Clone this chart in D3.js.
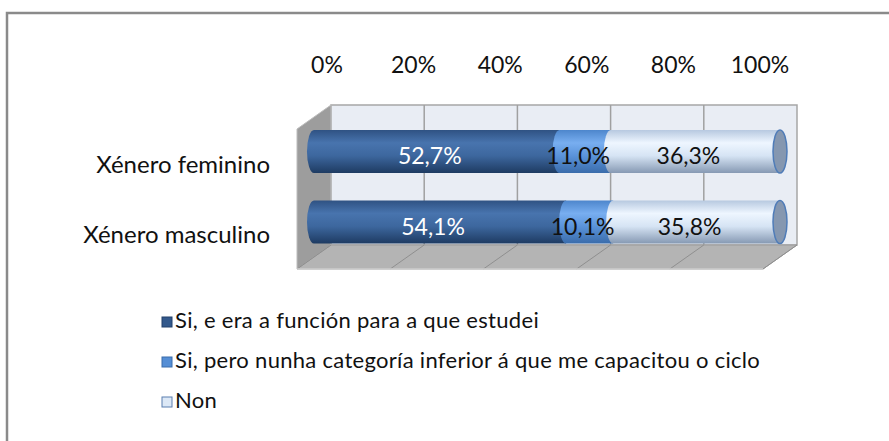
<!DOCTYPE html>
<html>
<head>
<meta charset="utf-8">
<script src="https://cdn.jsdelivr.net/npm/d3@7"></script>
<style>
  body { margin: 0; background: #fff; }
  text { font-family: Lato, "Open Sans", sans-serif; }
</style>
</head>
<body>
<svg id="chart" width="889" height="441"></svg>
<script>
// data
const categories = ['Xénero feminino', 'Xénero masculino'];
const seriesNames = [
  'Si, e era a función para a que estudei',
  'Si, pero nunha categoría inferior á que me capacitou o ciclo',
  'Non'
];
const seriesValues = [
  [52.7, 54.1],
  [11.0, 10.1],
  [36.3, 35.8]
];
const tickValues = [0, 20, 40, 60, 80, 100];

const svg = d3.select('#chart');
const defs = svg.append('defs');

// frame (continues past the picture's right and bottom edges)
svg.append('rect').attr('x', 7).attr('y', 13).attr('width', 900).attr('height', 450)
  .attr('fill', '#fff').attr('stroke', '#8a8a8a').attr('stroke-width', 2.5);

// 3d box geometry
const depthX = 34, depthY = 24;
const xBack = d3.scaleLinear().domain([0, 100]).range([331, 797]);
const xFront = d3.scaleLinear().domain([0, 100]).range([297, 763]);
const xMid = d3.scaleLinear().domain([0, 100]).range([314, 780]);
const xLab = d3.scaleLinear().domain([0, 100]).range([327, 760]);
const backTop = 105, backBottom = 245, frontTop = backTop + depthY, frontBottom = backBottom + depthY;

// back wall
svg.append('rect').attr('x', xBack(0)).attr('y', backTop)
  .attr('width', xBack(100) - xBack(0)).attr('height', backBottom - backTop)
  .attr('fill', '#e9edf4').attr('stroke', '#a6a6a6').attr('stroke-width', 1.5);
svg.selectAll('.grid').data(tickValues.slice(1, -1)).enter().append('line')
  .attr('x1', d => xBack(d)).attr('x2', d => xBack(d))
  .attr('y1', backTop).attr('y2', backBottom)
  .attr('stroke', '#a0a0a0').attr('stroke-width', 1.5);

// left side wall
svg.append('path')
  .attr('d', `M${xFront(0)},${frontTop}L${xBack(0)},${backTop}L${xBack(0)},${backBottom}L${xFront(0)},${frontBottom}Z`)
  .attr('fill', '#9d9d9d').attr('stroke', '#bdbdbd').attr('stroke-width', 1);

// floor
svg.append('path')
  .attr('d', `M${xFront(0)},${frontBottom}L${xBack(0)},${backBottom}L${xBack(100)},${backBottom}L${xFront(100)},${frontBottom}Z`)
  .attr('fill', '#b4b4b4').attr('stroke', '#9a9a9a').attr('stroke-width', 1);
svg.selectAll('.fgrid').data(tickValues).enter().append('line')
  .attr('x1', d => xBack(d)).attr('x2', d => xFront(d))
  .attr('y1', backBottom).attr('y2', frontBottom)
  .attr('stroke', '#8f8f8f').attr('stroke-width', 1);
svg.append('line').attr('x1', xFront(0)).attr('x2', xFront(100))
  .attr('y1', frontBottom).attr('y2', frontBottom)
  .attr('stroke', '#d0d0d0').attr('stroke-width', 1.5);

// gradients for the cylinders
const palettes = [
  ['#2f5283', '#4874ae', '#3d679e', '#1e3b62'],
  ['#4d86cc', '#78aef0', '#5a93da', '#3a6cab'],
  ['#b7c9e0', '#eef6ff', '#d6e4f4', '#8699b3']
];
palettes.forEach((p, i) => {
  const g = defs.append('linearGradient').attr('id', 'grad' + i)
    .attr('x1', 0).attr('x2', 0).attr('y1', 0).attr('y2', 1);
  [[0, p[0]], [0.3, p[1]], [0.6, p[2]], [1, p[3]]].forEach(([o, c]) =>
    g.append('stop').attr('offset', o).attr('stop-color', c));
});

const yc = d3.scalePoint().domain(categories).range([151.5, 222]);
const barH = 43, rx = 7;

// stack
const stacked = categories.map((c, ci) => {
  let acc = 0;
  return seriesValues.map((vals, si) => {
    const v = vals[ci];
    const d = { cat: c, si, v, x0: acc, x1: acc + v };
    acc += v;
    return d;
  });
});

stacked.forEach(row => {
  const cy = yc(row[0].cat);
  const g = svg.append('g');
  row.forEach(d => {
    const left = xMid(d.x0), right = xMid(d.x1);
    const top = cy - barH / 2;
    if (d.si === 0) {
      // rounded left end
      g.append('path')
        .attr('d', `M${right},${top}L${left},${top}A${rx},${barH / 2},0,0,0,${left},${top + barH}L${right},${top + barH}Z`)
        .attr('fill', `url(#grad${d.si})`);
    } else {
      g.append('path')
        .attr('d', `M${left},${top}A${rx},${barH / 2},0,0,0,${left},${top + barH}L${right},${top + barH}L${right},${top}Z`)
        .attr('fill', `url(#grad${d.si})`);
    }
  });
  // right cap
  const endX = xMid(100);
  g.append('ellipse').attr('cx', endX).attr('cy', cy).attr('rx', rx).attr('ry', barH / 2)
    .attr('fill', '#8597b0').attr('stroke', '#4f7cb8').attr('stroke-width', 1.5);
  // labels
  row.forEach(d => {
    g.append('text')
      .attr('x', xMid((d.x0 + d.x1) / 2) - 7).attr('y', cy + 7)
      .attr('text-anchor', 'middle').attr('dominant-baseline', 'middle')
      .attr('font-size', 23)
      .attr('fill', d.si === 0 ? '#fff' : '#111')
      .text(d3.format('.1f')(d.v).replace('.', ',') + '%');
  });
});

// top tick labels
svg.selectAll('.tick').data(tickValues).enter().append('text')
  .attr('x', d => xLab(d)).attr('y', 67)
  .attr('text-anchor', 'middle').attr('dominant-baseline', 'middle')
  .attr('font-size', 23).attr('fill', '#111')
  .text(d => d + '%');

// category labels
svg.selectAll('.cat').data(categories).enter().append('text')
  .attr('x', 270).attr('y', d => yc(d) + 15)
  .attr('text-anchor', 'end').attr('dominant-baseline', 'middle')
  .attr('font-size', 24).attr('fill', '#111')
  .text(d => d);

// legend
const legendFill = ['#33598c', '#558ed5', '#dce8f6'];
const legendStroke = ['#23406a', '#3a6cab', '#5b7fb0'];
const ly = d3.scalePoint().domain(seriesNames).range([322, 402]);
const leg = svg.selectAll('.leg').data(seriesNames).enter().append('g')
  .attr('transform', d => `translate(162,${ly(d)})`);
leg.append('rect').attr('x', 0).attr('y', -5).attr('width', 10).attr('height', 10)
  .attr('fill', (d, i) => legendFill[i]).attr('stroke', (d, i) => legendStroke[i]).attr('stroke-width', 1);
leg.append('text').attr('x', 13).attr('y', 0)
  .attr('dominant-baseline', 'middle').attr('font-size', 22).attr('letter-spacing', 0.3).attr('fill', '#111')
  .text(d => d);
</script>
</body>
</html>
